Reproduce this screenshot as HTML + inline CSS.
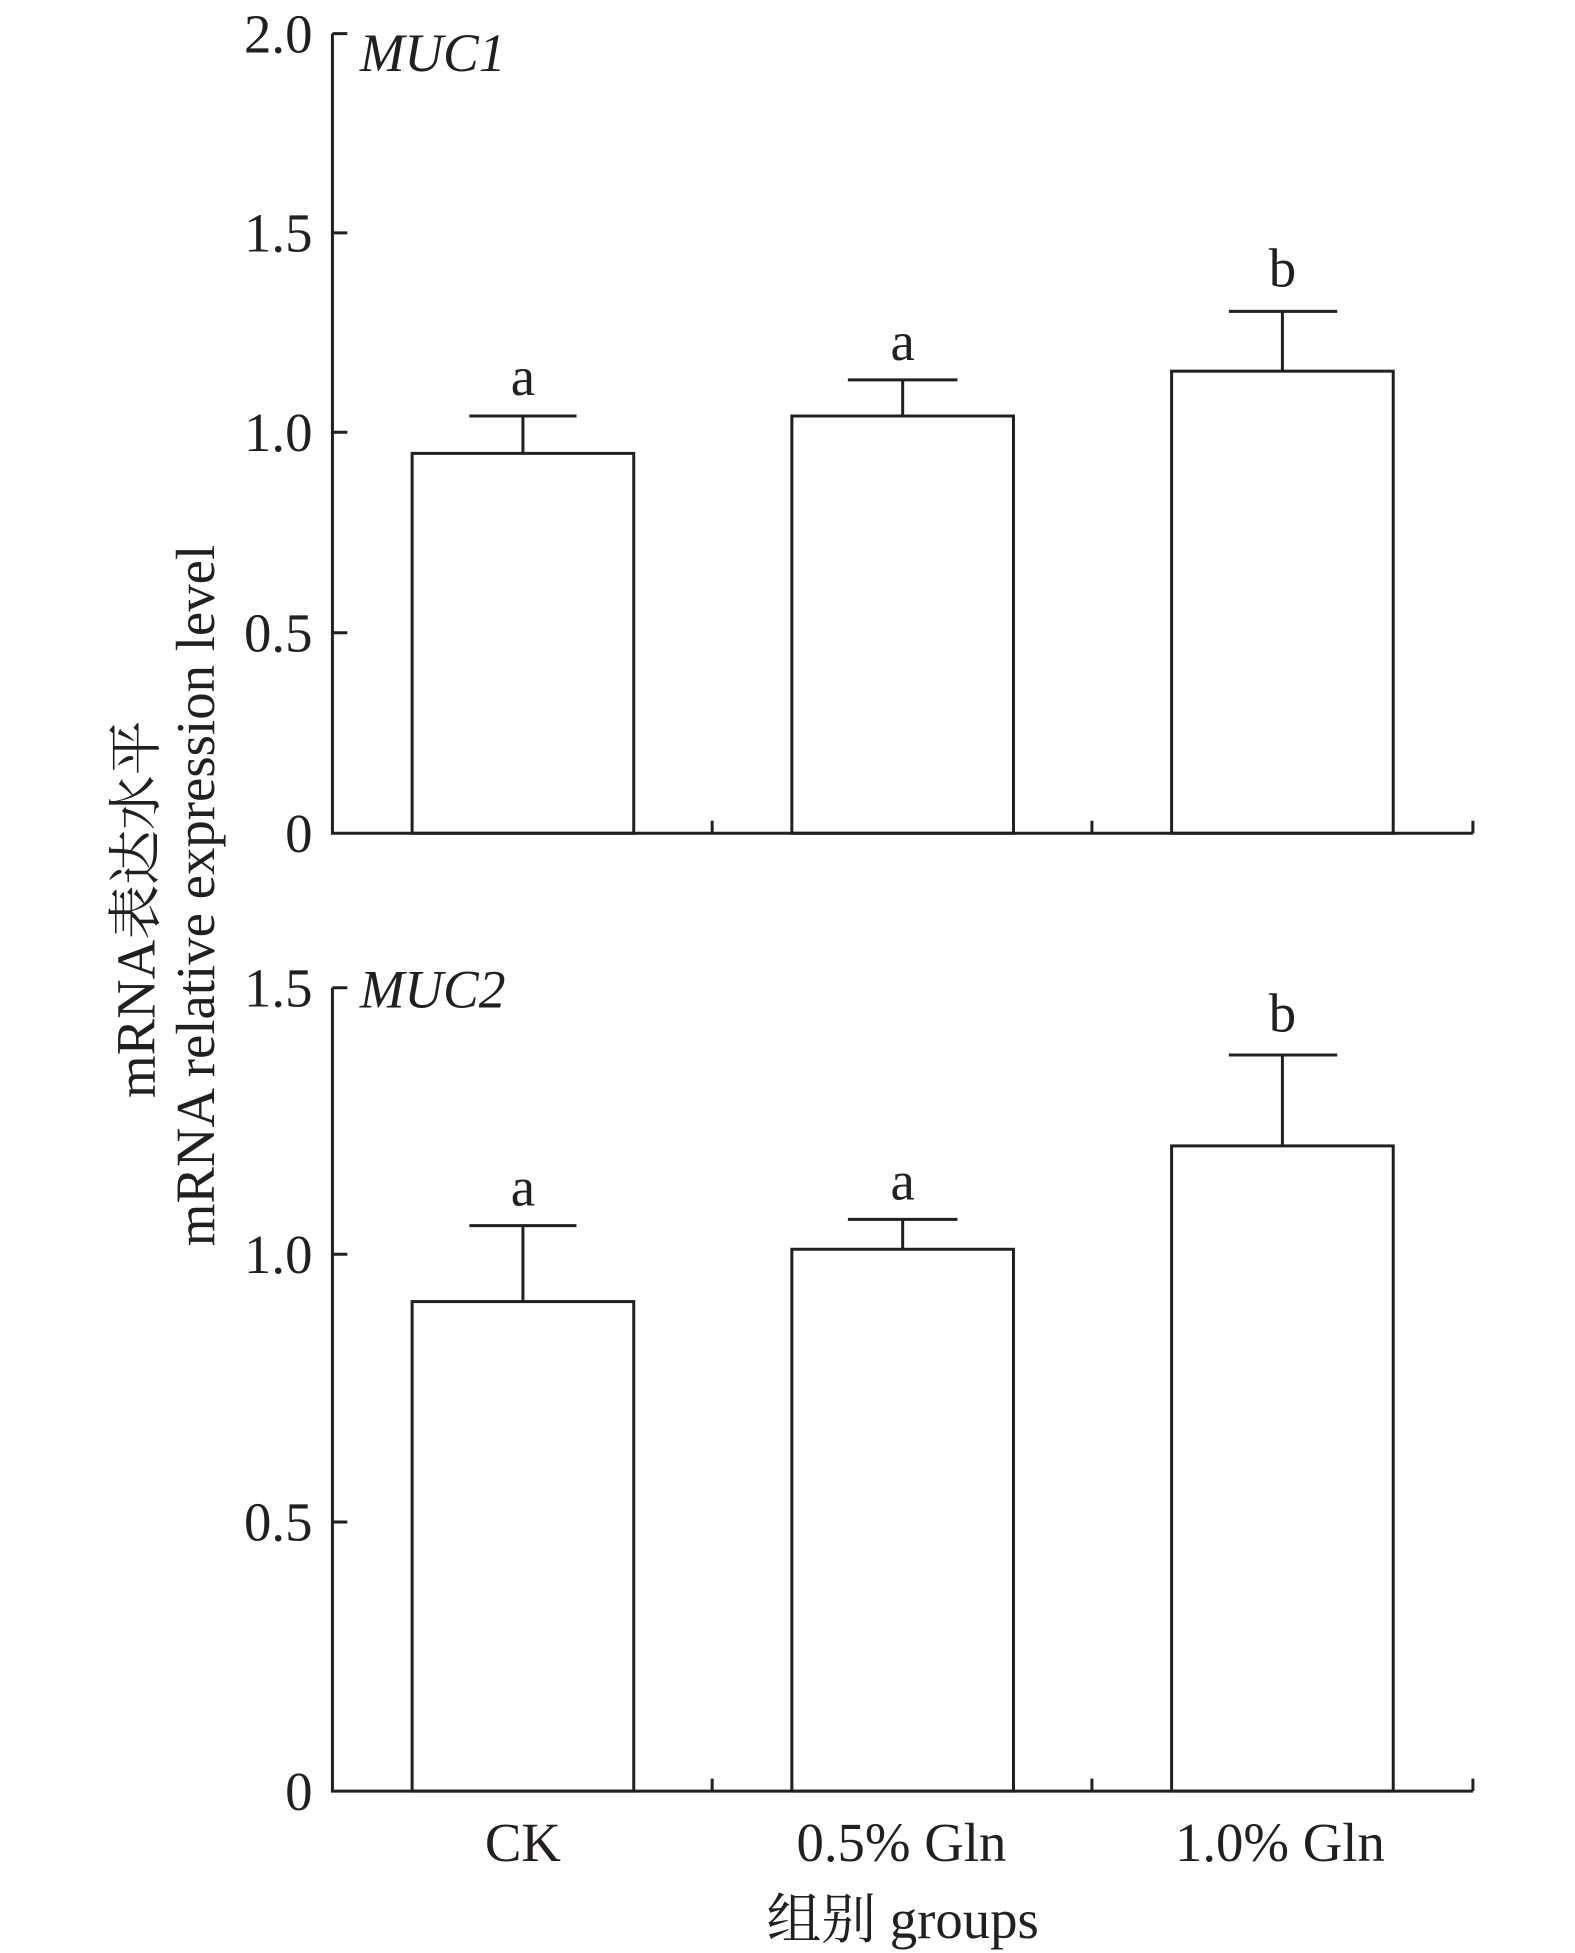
<!DOCTYPE html>
<html><head><meta charset="utf-8"><style>
html,body{margin:0;padding:0;background:#fff;}
svg{display:block;}
text{font-family:"Liberation Serif","Noto Serif CJK SC",serif;fill:#231f20;}
</style></head><body>
<svg width="1575" height="1953" viewBox="0 0 1265 1568" preserveAspectRatio="none" xmlns="http://www.w3.org/2000/svg">
<g stroke="#231f20" stroke-width="2.4" fill="none">
<path d="M267,27V669H1183"/>
<path d="M267,27h12M267,187h12M267,347h12M267,508h12"/>
<path d="M572,669v-10M877,669v-10M1183,669v-10"/>
<rect x="331" y="364" width="178" height="305"/>
<rect x="636" y="334" width="178" height="335"/>
<rect x="941" y="298" width="178" height="371"/>
<path d="M420,364V334M377,334H463"/>
<path d="M725,334V305M681,305H769"/>
<path d="M1030,298V250M987,250H1074"/>
<path d="M267,793V1438H1183"/>
<path d="M267,793h12M267,1007h12M267,1222h12"/>
<path d="M572,1438v-10M877,1438v-10M1183,1438v-10"/>
<rect x="331" y="1045" width="178" height="393"/>
<rect x="636" y="1003" width="178" height="435"/>
<rect x="941" y="920" width="178" height="518"/>
<path d="M420,1045V984M377,984H463"/>
<path d="M725,1003V979M681,979H769"/>
<path d="M1030,920V847M987,847H1074"/>
</g>
<g font-size="44" text-anchor="end">
<text x="251" y="42">2.0</text>
<text x="251" y="202">1.5</text>
<text x="251" y="362">1.0</text>
<text x="251" y="523">0.5</text>
<text x="251" y="684">0</text>
<text x="251" y="808">1.5</text>
<text x="251" y="1022">1.0</text>
<text x="251" y="1237">0.5</text>
<text x="251" y="1453">0</text>
</g>
<g font-size="43" font-style="italic">
<text x="289" y="57">MUC1</text>
<text x="289" y="809">MUC2</text>
</g>
<g font-size="44" text-anchor="middle">
<text x="420" y="317">a</text>
<text x="725" y="289">a</text>
<text x="1030" y="230">b</text>
<text x="420" y="968">a</text>
<text x="725" y="963">a</text>
<text x="1030" y="828">b</text>
<text x="420" y="1494">CK</text>
<text x="724" y="1494">0.5% Gln</text>
<text x="1028" y="1494">1.0% Gln</text>
<text x="725" y="1556">组别 groups</text>
<text transform="translate(124,730) rotate(-90)">mRNA表达水平</text>
<text transform="translate(172,719) rotate(-90)">mRNA relative expression level</text>
</g>
</svg>
</body></html>
